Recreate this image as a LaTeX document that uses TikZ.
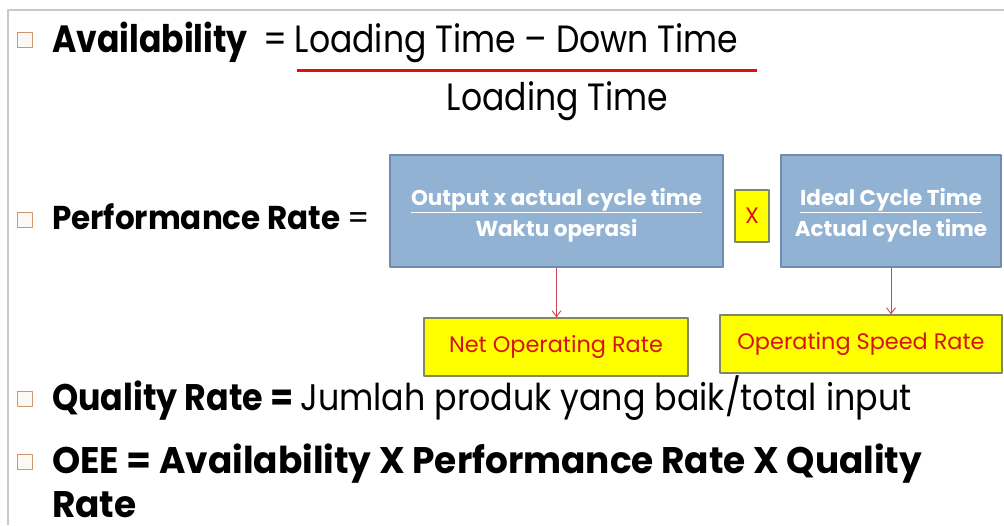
\documentclass[tikz,border=0pt]{standalone}
\usepackage{fontspec}
\setmainfont{Poppins}
\newfontfamily\headfont[FakeStretch=0.87]{Poppins}
\newfontfamily\perffont[FakeStretch=0.94]{Poppins}
\newfontfamily\qualfont[FakeStretch=0.90]{Poppins}
\newfontfamily\oeefont[FakeStretch=0.97]{Poppins}
\usetikzlibrary{positioning,arrows.meta}

\definecolor{framegrey}{RGB}{200,200,200}
\definecolor{bulletedge}{RGB}{205,150,110}
\definecolor{bulletfill}{RGB}{252,248,244}
\definecolor{boxblue}{RGB}{146,178,212}
\definecolor{boxedge}{RGB}{110,140,175}
\definecolor{markyellow}{RGB}{255,255,0}
\definecolor{markedge}{RGB}{130,135,100}
\definecolor{ratered}{RGB}{215,20,20}
\definecolor{linkred}{RGB}{200,70,80}

\begin{document}
\begin{tikzpicture}[
    x=1pt, y=-1pt,
    bullet/.style={draw=bulletedge, fill=bulletfill, line width=1pt,
      minimum size=15pt, inner sep=0pt},
    headtext/.style={anchor=base west, inner sep=0pt, font=\headfont\fontsize{38}{40}\selectfont},
    perftext/.style={anchor=base west, inner sep=0pt, font=\perffont\fontsize{33}{36}\selectfont},
    qualtext/.style={anchor=base west, inner sep=0pt, font=\qualfont\fontsize{37}{40}\selectfont},
    oeetext/.style={anchor=base west, inner sep=0pt, font=\oeefont\fontsize{37}{40}\selectfont},
    ratiobox/.style={draw=boxedge, fill=boxblue, line width=1.2pt, minimum height=112pt},
    ratiotext/.style={text=white, align=center, inner sep=0pt,
      font=\bfseries\fontsize{21.5}{31}\selectfont},
    ratebox/.style={draw=markedge, fill=markyellow, line width=1.2pt, text=ratered,
      font=\fontsize{22.4}{24}\selectfont},
    link/.style={draw=linkred, line width=0.9pt, -{Straight Barb[length=6pt,width=9pt]}},
  line join=round]

  \useasboundingbox (0,0) rectangle (1004,525);

  % frame
  \draw [framegrey, line width=1.3pt] (8,525) -- (8,10) -- (1004,10);

  % availability
  \node [bullet] (b1) at (24.5,40) {};
  \node [headtext] (avail) at (52,52) {\bfseries Availability};
  \node [headtext] (eq1) at (263,52) {=};
  \node [headtext, anchor=base] (num) at (516.5,52) {Loading Time – Down Time};
  \draw [ratered, line width=3pt] (297,70) -- (757,70);
  \node [headtext, anchor=base] (den) at (557.5,110) {Loading Time};

  % performance rate
  \node [bullet] (b2) at (24.5,220) {};
  \node [perftext] (perf) at (52,229) {\bfseries Performance Rate};
  \node [perftext] (eq2) at (347,229) {=};

  \node [ratiobox, minimum width=333pt] (net) at (556.5,211) {};
  \node [ratiotext] (nettext) at ([yshift=-4pt]net.center)
    {\underline{Output x actual cycle time}\\Waktu operasi};
  \node [ratebox, minimum width=34pt, minimum height=52pt, inner sep=0pt] (times) at (752,216) {X};
  \node [ratiobox, minimum width=220pt] (speed) at (891,211) {};
  \node [ratiotext] (speedtext) at ([yshift=-4pt]speed.center)
    {\underline{Ideal Cycle Time}\\Actual cycle time};

  \node [ratebox, minimum width=264pt, minimum height=58pt] (netrate) at (556,347) {Net Operating Rate};
  \node [ratebox, minimum width=282pt, minimum height=58pt] (speedrate) at (861,344) {Operating Speed Rate};

  \draw [link] (net.south) -- (net.south |- netrate.north);
  \draw [link] (speed.south) -- (speed.south |- speedrate.north);

  % quality rate
  \node [bullet] (b3) at (24.5,399) {};
  \node [qualtext] (qual) at (52,410) {\bfseries Quality Rate = \mdseries Jumlah produk yang baik/total input};

  % oee
  \node [bullet] (b4) at (24.5,462) {};
  \node [oeetext] (oee) at (52,473) {\bfseries OEE = Availability X Performance Rate X Quality};
  \node [oeetext] (oee2) at (52,517) {\bfseries Rate};
\end{tikzpicture}
\end{document}
